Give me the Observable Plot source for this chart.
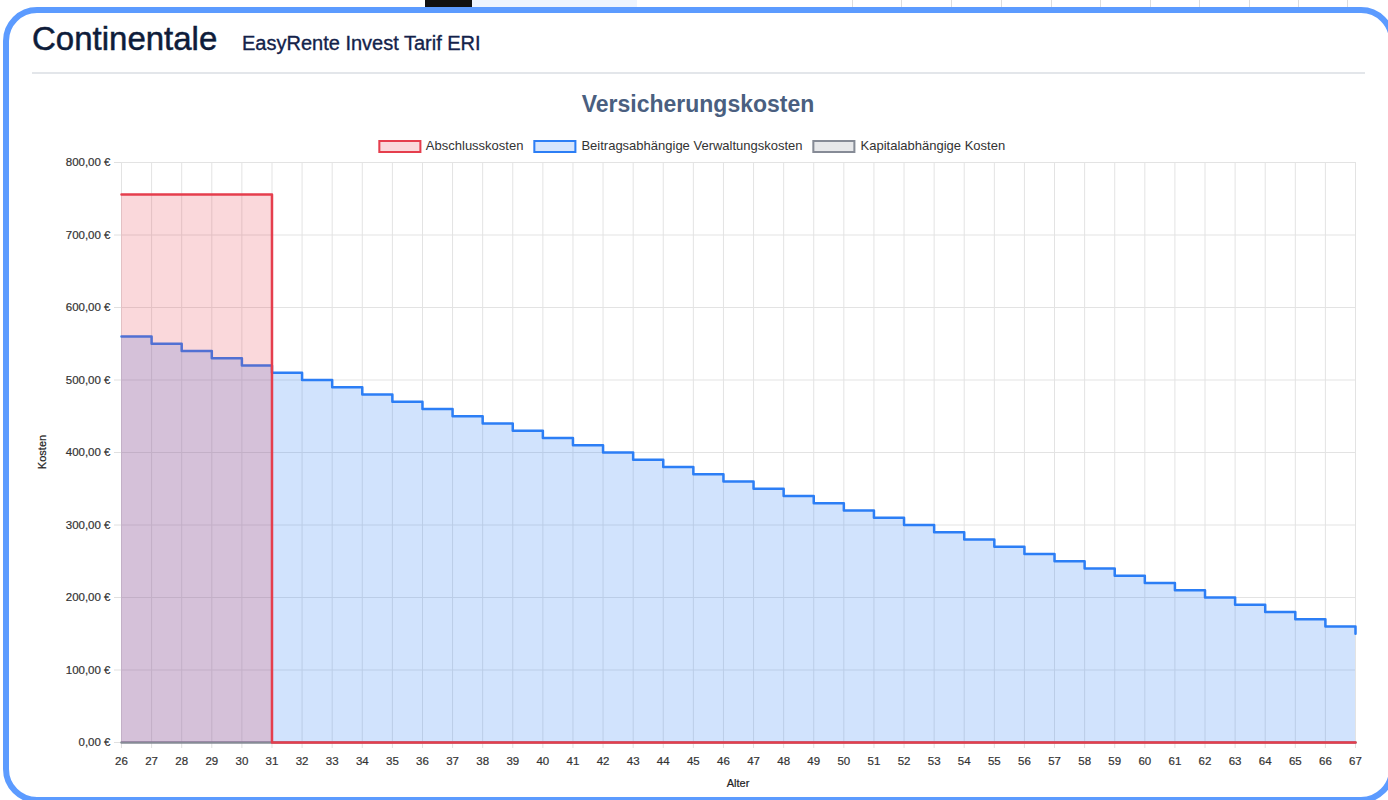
<!DOCTYPE html>
<html>
<head>
<meta charset="utf-8">
<script src="https://cdn.jsdelivr.net/npm/d3@7"></script>
<script src="https://cdn.jsdelivr.net/npm/@observablehq/plot@0.6"></script>
<style>
  html, body { margin: 0; padding: 0; background: #fff; width: 1388px; height: 800px; overflow: hidden; position: relative; font-family: "Liberation Sans", Arial, Helvetica, sans-serif; }
  .abs { position: absolute; }
  #card { left: 3px; top: 7px; width: 1392px; height: 796px; border: 6px solid #5c9bff; border-radius: 34px; box-sizing: border-box; background: #fff; }
  #brand { left: 32px; top: 22px; font-size: 33px; line-height: 33px; color: #0e1c3a; white-space: nowrap; -webkit-text-stroke: 0.5px #0e1c3a; }
  #product { left: 242px; top: 33px; font-size: 20px; line-height: 20px; color: #13224a; white-space: nowrap; -webkit-text-stroke: 0.35px #13224a; }
  #sep { left: 32px; top: 72px; width: 1333px; height: 1.5px; background: #e3e6ea; }
  #title { left: 698px; top: 92.5px; transform: translateX(-50%); font-size: 23px; line-height: 23px; font-weight: bold; color: #4a5f80; white-space: nowrap; }
  #legend { left: 691.5px; top: 139px; transform: translateX(-50%); display: flex; align-items: center; gap: 10px; font-size: 13px; line-height: 14px; color: #333; white-space: nowrap; }
  .item { display: flex; align-items: center; gap: 5px; }
  .box { width: 43px; height: 13px; box-sizing: border-box; border-width: 2px; border-style: solid; }
  #chart { left: 0; top: 150px; }
  #ylab { left: 42px; top: 452px; transform: translate(-50%, -50%) rotate(-90deg); font-size: 11px; color: #222; white-space: nowrap; -webkit-text-stroke: 0.2px #222; }
  #xlab { left: 738px; top: 783px; transform: translate(-50%, -50%); font-size: 11px; color: #222; white-space: nowrap; -webkit-text-stroke: 0.2px #222; }
  svg [aria-label="x-axis tick"], svg [aria-label="y-axis tick"] { stroke: #e0e0e0; }
  svg g.tick line { stroke: #e0e0e0; }
  svg [aria-label="x-axis tick label"] text, svg [aria-label="y-axis tick label"] text { stroke: #333; stroke-width: 0.2px; }
</style>
</head>
<body>
<div class="abs" style="left:425px;top:0;width:47px;height:8px;background:#111;"></div>
<div class="abs" style="left:472px;top:0;width:165px;height:8px;background:#edf4fe;"></div>
<div id="topgrid"></div>
<div id="card" class="abs"></div>
<div id="brand" class="abs">Continentale</div>
<div id="product" class="abs">EasyRente Invest Tarif ERI</div>
<div id="sep" class="abs"></div>
<div id="title" class="abs">Versicherungskosten</div>
<div id="legend" class="abs"></div>
<div id="chart" class="abs"></div>
<div id="ylab" class="abs">Kosten</div>
<div id="xlab" class="abs">Alter</div>
<script>
// ---- Data ----
const ages = [26,27,28,29,30,31,32,33,34,35,36,37,38,39,40,41,42,43,44,45,46,47,48,49,50,51,52,53,54,55,56,57,58,59,60,61,62,63,64,65,66,67];
const abschlusskosten = [756,756,756,756,756,0,0,0,0,0,0,0,0,0,0,0,0,0,0,0,0,0,0,0,0,0,0,0,0,0,0,0,0,0,0,0,0,0,0,0,0,0];
const beitragsabhaengigeVerwaltungskosten = [560,550,540,530,520,510,500,490,480,470,460,450,440,430,420,410,400,390,380,370,360,350,340,330,320,310,300,290,280,270,260,250,240,230,220,210,200,190,180,170,160,150];
const kapitalabhaengigeKosten = [0,0,0,0,0,0,0,0,0,0,0,0,0,0,0,0,0,0,0,0,0,0,0,0,0,0,0,0,0,0,0,0,0,0,0,0,0,0,0,0,0,0];
const yTicks = [0,100,200,300,400,500,600,700,800];
const seriesNames = ["Abschlusskosten", "Beitragsabhängige Verwaltungskosten", "Kapitalabhängige Kosten"];
const seriesColors = ["#e53e4d", "#2c7ef5", "#868b96"];

// decorative background strip above the card
const tg = document.getElementById("topgrid");
[852,901,951,1001,1051,1100,1150,1199,1249,1298,1347].forEach(x => {
  const d = document.createElement("div");
  d.className = "abs";
  d.style.cssText = `left:${x}px;top:0;width:1px;height:8px;background:#ddd;`;
  tg.appendChild(d);
});

// legend
const legend = document.getElementById("legend");
seriesNames.forEach((name, i) => {
  const it = document.createElement("div");
  it.className = "item";
  const b = document.createElement("div");
  b.className = "box";
  b.style.borderColor = seriesColors[i];
  b.style.background = d3.color(seriesColors[i]).copy({opacity: 0.2}).formatRgb();
  const t = document.createElement("span");
  t.textContent = name;
  it.appendChild(b); it.appendChild(t);
  legend.appendChild(it);
});

const mk = arr => ages.map((a, i) => ({age: a, value: arr[i]}));
const dA = mk(abschlusskosten);
const dB = mk(beitragsabhaengigeVerwaltungskosten);
const dK = mk(kapitalabhaengigeKosten);

const fmtEuro = v => v.toFixed(2).replace(".", ",") + " €";

const chart = Plot.plot({
  width: 1388,
  height: 650,
  marginLeft: 121,
  marginRight: 33,
  marginTop: 12,
  marginBottom: 58,
  style: {fontFamily: '"Liberation Sans", Arial, Helvetica, sans-serif', fontSize: "11.5px", color: "#333", background: "transparent", overflow: "visible"},
  x: {type: "linear", domain: [26, 67], ticks: ages, tickFormat: d => String(d), tickSize: 6, tickPadding: 8, label: null},
  y: {domain: [0, 800], ticks: yTicks, tickFormat: fmtEuro, tickSize: 7, tickPadding: 4, label: null},
  marks: [
    Plot.ruleX(ages, {stroke: "#e3e3e3", strokeWidth: 1}),
    Plot.ruleY(yTicks, {stroke: "#e3e3e3", strokeWidth: 1}),
    Plot.areaY(dK, {x: "age", y: "value", curve: "step-after", fill: seriesColors[2], fillOpacity: 0.2}),
    Plot.lineY(dK, {x: "age", y: "value", curve: "step-after", stroke: seriesColors[2], strokeWidth: 2.5}),
    Plot.areaY(dB, {x: "age", y: "value", curve: "step-after", fill: seriesColors[1], fillOpacity: 0.22}),
    Plot.lineY(dB, {x: "age", y: "value", curve: "step-after", stroke: seriesColors[1], strokeWidth: 2.5}),
    Plot.areaY(dA, {x: "age", y: "value", curve: "step-after", fill: seriesColors[0], fillOpacity: 0.2}),
    Plot.lineY(dA, {x: "age", y: "value", curve: "step-after", stroke: seriesColors[0], strokeWidth: 2.5})
  ]
});
document.getElementById("chart").appendChild(chart);
</script>
</body>
</html>
